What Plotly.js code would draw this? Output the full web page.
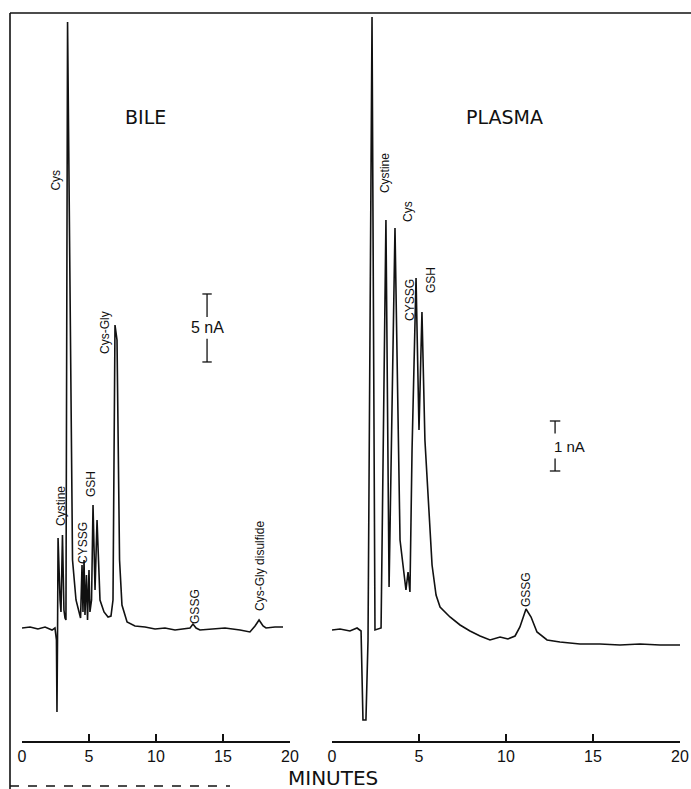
<!DOCTYPE html>
<html>
<head>
<meta charset="utf-8">
<script src="https://cdn.plot.ly/plotly-3.0.1.min.js"></script>
<style>html,body{margin:0;padding:0;background:#fff;}#chart{width:691px;height:789px;}</style>
</head>
<body>
<div id="chart"></div>
<script>
// ---- data ----
// BILE chromatogram: time (min) and detector current (nA, baseline = 0)
var bileTime = [0, 0.6, 1.19, 1.72, 2.24, 2.46, 2.57, 2.61, 2.65, 2.69, 2.84, 2.91, 3.02, 3.13, 3.21, 3.28, 3.40, 3.58, 3.77, 4.03, 4.25, 4.37, 4.48, 4.55, 4.63, 4.70, 4.81, 4.89, 5.0, 5.07, 5.19, 5.30, 5.45, 5.60, 5.82, 6.12, 6.42, 6.64, 6.79, 6.94, 7.09, 7.28, 7.46, 7.84, 8.43, 9.18, 9.93, 10.67, 11.42, 12.16, 12.54, 12.76, 12.99, 13.28, 14.03, 15.15, 16.27, 17.01, 17.39, 17.69, 17.99, 18.21, 18.88, 19.48];
var bileCurrent = [0, 0.07, -0.07, 0.07, -0.15, 0, -0.88, -6.18, -0.88, 6.62, 2.06, 1.18, 6.84, 1.32, 0.74, 0.59, 44.56, 24.12, 5.0, 2.06, 1.18, 0.74, 4.63, 1.18, 5.0, 0.96, 3.9, 0.59, 4.26, 1.18, 2.06, 9.04, 2.79, 7.94, 2.06, 1.18, 0.81, 0.88, 2.06, 22.28, 21.18, 5.0, 1.69, 0.44, 0.15, 0.07, -0.07, 0, -0.15, -0.07, 0, 0.29, 0, -0.15, -0.07, 0, -0.15, -0.29, 0.15, 0.59, 0.15, 0, 0.07, 0.07];

// PLASMA chromatogram: time (min) and detector current (nA, baseline = 0)
var plasmaTime = [0, 0.46, 1.03, 1.44, 1.67, 1.78, 1.95, 2.07, 2.30, 2.47, 2.82, 3.10, 3.28, 3.62, 3.91, 4.14, 4.25, 4.37, 4.48, 4.60, 4.83, 5.00, 5.17, 5.34, 5.52, 5.75, 5.98, 6.21, 6.78, 7.36, 7.93, 8.51, 9.08, 9.66, 10.11, 10.52, 10.80, 11.15, 11.44, 11.78, 12.36, 13.10, 14.25, 15.40, 16.55, 17.70, 18.85, 20.0];
var plasmaCurrent = [0, 0.02, -0.02, 0.04, -0.02, -1.8, -1.8, -0.2, 12.26, 0, 0.04, 8.2, 0.86, 8.04, 1.8, 1.1, 0.8, 1.16, 0.76, 3.6, 7.04, 4.0, 6.36, 3.8, 2.6, 1.3, 0.7, 0.46, 0.26, 0.1, -0.02, -0.12, -0.2, -0.14, -0.18, -0.12, 0.06, 0.42, 0.26, -0.04, -0.2, -0.24, -0.28, -0.28, -0.3, -0.28, -0.3, -0.3];

// tick labels (minutes)
var tickVals = [0, 5, 10, 15, 20];
var tickText = ["0", "5", "10", "15", "20"];

// peak labels: [text, time, current]
var bileLabels = [
  ["Cys", 2.54, 32.9],
  ["Cystine", 2.91, 8.97],
  ["CYSSG", 4.55, 6.25],
  ["GSH", 5.15, 10.59],
  ["Cys-Gly", 6.19, 21.76],
  ["GSSG", 12.91, 1.62],
  ["Cys-Gly disulfide", 17.76, 4.56]
];
var plasmaLabels = [
  ["Cystine", 3.05, 9.14],
  ["Cys", 4.37, 8.36],
  ["CYSSG", 4.48, 6.6],
  ["GSH", 5.69, 7.0],
  ["GSSG", 11.15, 0.8]
];
var bileScaleNA = 5, plasmaScaleNA = 1;

// ---- figure ----
var W = 691, H = 789;
var ink = "#111";
var txtFont = "Liberation Sans, Arial, sans-serif";

var traces = [
  {x: bileTime, y: bileCurrent, xaxis: "x", yaxis: "y", mode: "lines",
   line: {color: ink, width: 1.6}, hoverinfo: "skip"},
  {x: plasmaTime, y: plasmaCurrent, xaxis: "x2", yaxis: "y2", mode: "lines",
   line: {color: ink, width: 1.6}, hoverinfo: "skip"}
];

function xAxis(domain) {
  return {
    domain: domain, range: [0, 20], anchor: "free", position: 48 / H,
    showgrid: false, zeroline: false, showline: true, linecolor: ink, linewidth: 1.6,
    ticks: "inside", ticklen: 7, tickwidth: 1.6, tickcolor: ink,
    tickvals: tickVals, ticktext: tickText,
    tickfont: {family: "Liberation Sans Narrow, Liberation Sans, Arial", size: 16, color: ink},
    fixedrange: true
  };
}
function yAxis(range) {
  return {domain: [0, 1], range: range, visible: false, showgrid: false, zeroline: false, fixedrange: true};
}

var annotations = [];
function addLabels(list, xr, yr) {
  list.forEach(function (l) {
    annotations.push({text: l[0], x: l[1], y: l[2], xref: xr, yref: yr, textangle: -90,
      showarrow: false, xanchor: "center", yanchor: "middle",
      font: {family: txtFont, size: 12, color: ink}});
  });
}
addLabels(bileLabels, "x", "y");
addLabels(plasmaLabels, "x2", "y2");

annotations.push({text: "BILE", x: 9.2, y: 37.57, xref: "x", yref: "y", showarrow: false,
  font: {family: "DejaVu Sans, sans-serif", size: 19, color: ink}});
annotations.push({text: "PLASMA", x: 9.94, y: 10.26, xref: "x2", yref: "y2", showarrow: false,
  font: {family: "DejaVu Sans, sans-serif", size: 19, color: ink}});
annotations.push({text: "MINUTES", x: 333 / W, y: 1 - 778 / H, xref: "paper", yref: "paper", showarrow: false,
  xanchor: "center", yanchor: "middle",
  font: {family: "DejaVu Sans, sans-serif", size: 20, color: ink}});

// scale bars
var bBarT = 13.81, bBarLo = 19.56, bBarHi = bBarLo + bileScaleNA;
var pBarT = 12.82, pBarLo = 3.18, pBarHi = pBarLo + plasmaScaleNA;
annotations.push({text: bileScaleNA + " nA", x: bBarT, y: (bBarLo + bBarHi) / 2, xref: "x", yref: "y",
  showarrow: false, font: {family: txtFont, size: 16, color: ink}});
annotations.push({text: plasmaScaleNA + " nA", x: pBarT - 0.2, y: (pBarLo + pBarHi) / 2, xref: "x2", yref: "y2",
  xanchor: "left", showarrow: false, font: {family: txtFont, size: 15, color: ink}});

var shapes = [];
function seg(xr, yr, x0, y0, x1, y1, w) {
  shapes.push({type: "line", xref: xr, yref: yr, x0: x0, y0: y0, x1: x1, y1: y1,
    line: {color: ink, width: w || 1.3}});
}
// bile bar: broken by text
seg("x", "y", bBarT, bBarHi, bBarT, bBarHi - 1.7);
seg("x", "y", bBarT, bBarLo, bBarT, bBarLo + 1.7);
seg("x", "y", bBarT - 0.35, bBarHi, bBarT + 0.35, bBarHi);
seg("x", "y", bBarT - 0.35, bBarLo, bBarT + 0.35, bBarLo);
// plasma bar
seg("x2", "y2", pBarT, pBarHi, pBarT, pBarHi - 0.25);
seg("x2", "y2", pBarT, pBarLo, pBarT, pBarLo + 0.25);
seg("x2", "y2", pBarT - 0.3, pBarHi, pBarT + 0.3, pBarHi);
seg("x2", "y2", pBarT - 0.3, pBarLo, pBarT + 0.3, pBarLo);

// frame lines (paper)
shapes.push({type: "line", xref: "paper", yref: "paper", x0: 10 / W, x1: 1, y0: 1 - 13 / H, y1: 1 - 13 / H, line: {color: ink, width: 1.6}});
shapes.push({type: "line", xref: "paper", yref: "paper", x0: 10 / W, x1: 10 / W, y0: 1 - 13 / H, y1: 0, line: {color: ink, width: 1.6}});
shapes.push({type: "line", xref: "paper", yref: "paper", x0: 10 / W, x1: 230 / W, y0: 1 - 786 / H, y1: 1 - 786 / H, line: {color: ink, width: 1.4, dash: "dash"}});

var layout = {
  width: W, height: H, margin: {l: 0, r: 0, t: 0, b: 0},
  paper_bgcolor: "#fff", plot_bgcolor: "rgba(0,0,0,0)", showlegend: false,
  xaxis: xAxis([22 / W, 290 / W]),
  xaxis2: xAxis([332 / W, 680 / W]),
  yaxis: yAxis([-(H - 628) / 13.6, 628 / 13.6]),
  yaxis2: yAxis([-(H - 630) / 50, 630 / 50]),
  annotations: annotations, shapes: shapes
};

Plotly.newPlot("chart", traces, layout, {staticPlot: true, displayModeBar: false});
</script>
</body>
</html>
